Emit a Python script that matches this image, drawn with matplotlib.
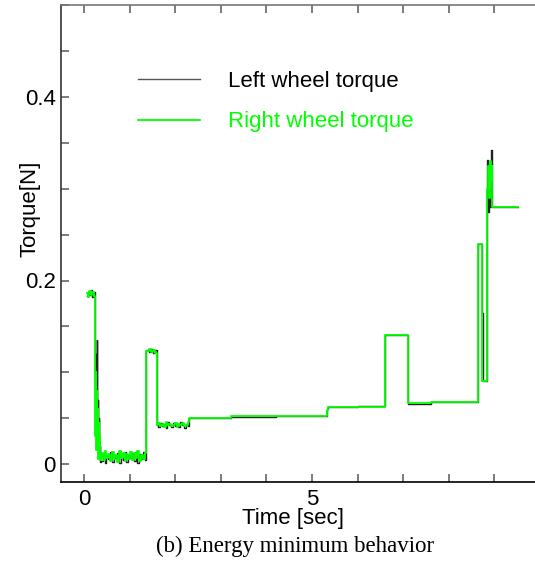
import matplotlib
matplotlib.use("Agg")
import matplotlib.pyplot as plt
from matplotlib.ticker import MultipleLocator, FixedLocator

plt.rcParams['font.family'] = ['Liberation Sans', 'DejaVu Sans']

# ---- data (time in sec, torque in N) ----
# start level, falling edge, noisy floor, short bump, noisy low level, steps, spike
start_t = [0.06, 0.09, 0.12, 0.15, 0.18, 0.21]
drop_t = [0.24, 0.25, 0.26, 0.27, 0.28, 0.29, 0.30, 0.31, 0.32, 0.33, 0.34, 0.35]
floor_t = [0.37, 0.41, 0.45, 0.49, 0.53, 0.57, 0.61, 0.65, 0.69, 0.73, 0.77, 0.81, 0.85,
           0.89, 0.93, 0.97, 1.01, 1.05, 1.09, 1.13, 1.17, 1.21, 1.25, 1.29, 1.33]
bump_t = [1.37, 1.42, 1.47, 1.52, 1.56]
low_t = [1.59, 1.63, 1.67, 1.71, 1.75, 1.79, 1.83, 1.87, 1.91, 1.95, 1.99, 2.03, 2.07,
         2.11, 2.15, 2.19, 2.23, 2.27]

left_start = [0.183, 0.188, 0.184, 0.190, 0.182, 0.187]
left_drop = [0.140, 0.090, 0.120, 0.050, 0.135, 0.040, 0.070, 0.020, 0.050, 0.005, 0.020, 0.002]
left_floor = [0.003, 0.011, 0.001, 0.009, 0.005, 0.013, 0.002, 0.010, 0.006, 0.012, 0.001, 0.008, 0.004,
              0.013, 0.002, 0.010, 0.006, 0.012, 0.003, 0.009, 0.001, 0.011, 0.005, 0.013, 0.004]
left_bump = [0.124, 0.122, 0.125, 0.121, 0.124]
left_low = [0.043, 0.040, 0.045, 0.041, 0.044, 0.039, 0.046, 0.042, 0.040, 0.045, 0.041, 0.044,
            0.040, 0.046, 0.042, 0.039, 0.044, 0.041]
left_tail_t = [2.31, 2.80, 3.22, 4.20, 5.33, 5.36, 6.00, 6.59, 6.85, 7.10, 7.62, 8.20, 8.64,
               8.73, 8.74, 8.84, 8.86, 8.88, 8.90, 8.92, 8.94, 8.95, 9.52]
left_tail = [0.0500, 0.0505, 0.0515, 0.0520, 0.0600, 0.0620, 0.0628, 0.1410, 0.1405, 0.0655,
             0.0675, 0.0680, 0.240, 0.165, 0.090, 0.331, 0.275, 0.300, 0.280, 0.342, 0.290,
             0.280, 0.280]

right_start = [0.186, 0.182, 0.189, 0.184, 0.188, 0.183]
right_drop = [0.120, 0.030, 0.100, 0.015, 0.080, 0.020, 0.060, 0.005, 0.045, 0.010, 0.030, 0.004]
right_floor = [0.012, 0.004, 0.014, 0.006, 0.011, 0.003, 0.013, 0.005, 0.010, 0.002, 0.014, 0.007, 0.012,
               0.003, 0.011, 0.005, 0.013, 0.004, 0.012, 0.006, 0.014, 0.003, 0.010, 0.005, 0.012]
right_bump = [0.123, 0.125, 0.122, 0.124, 0.121]
right_low = [0.042, 0.045, 0.041, 0.044, 0.040, 0.046, 0.042, 0.044, 0.041, 0.043, 0.045, 0.040,
             0.044, 0.042, 0.045, 0.041, 0.043, 0.046]
right_tail_t = [2.31, 3.22, 5.33, 5.36, 6.59, 7.10, 7.62, 8.64, 8.73, 8.84, 8.86, 8.88, 8.90,
                8.92, 8.94, 8.95, 9.52]
right_tail = [0.0505, 0.0522, 0.0590, 0.0625, 0.1405, 0.0660, 0.0680, 0.240, 0.090, 0.300,
              0.325, 0.290, 0.330, 0.310, 0.325, 0.280, 0.280]

left_t = start_t + drop_t + floor_t + bump_t + low_t + left_tail_t
left_v = left_start + left_drop + left_floor + left_bump + left_low + left_tail
right_t = start_t + drop_t + floor_t + bump_t + low_t + right_tail_t
right_v = right_start + right_drop + right_floor + right_bump + right_low + right_tail

x_major = [0, 5, 10]
y_major = [0, 0.2, 0.4]

GREEN = '#00ff00'

fig = plt.figure(figsize=(5.35, 5.64), dpi=100)
# axes runs off the right edge of the picture, like the scanned figure
ax = fig.add_axes([61.2 / 535, 1 - 482.35 / 564, 501.6 / 535, 477.1 / 564])

ax.plot(left_t, left_v, color='#222222', lw=1.0, drawstyle='steps-post',
        label='Left wheel torque')
ax.plot(right_t, right_v, color=GREEN, lw=1.3, drawstyle='steps-post',
        label='Right wheel torque')

ax.set_xlim(-0.5, 10.5)
ax.set_ylim(-0.02, 0.5)

ax.xaxis.set_major_locator(FixedLocator(x_major))
ax.xaxis.set_minor_locator(MultipleLocator(1))
ax.yaxis.set_major_locator(FixedLocator(y_major))
ax.yaxis.set_minor_locator(MultipleLocator(0.05))
ax.set_xticklabels(['0', '5', ''])
ax.set_yticklabels(['0', '0.2', '0.4'])

ax.tick_params(which='both', direction='in', length=6, width=1.2, color='#666666',
               top=True, right=False, labelsize=16)
ax.tick_params(axis='x', pad=5)
ax.tick_params(axis='y', pad=4)

for side in ['top', 'right']:
    ax.spines[side].set_color('#777777')
ax.spines['left'].set_color('#333333')
ax.spines['bottom'].set_color('black')
for sp in ax.spines.values():
    sp.set_linewidth(1.2)

leg = ax.legend(loc='upper left', bbox_to_anchor=(0.153, 0.862), frameon=False,
                fontsize=16, handlelength=2.8, handletextpad=1.27, labelspacing=0.87,
                borderpad=0, borderaxespad=0)
leg.get_lines()[0].set_color('#555555')
leg.get_texts()[0].set_color('black')
leg.get_texts()[1].set_color(GREEN)

fig.text(30 / 535, 1 - 209 / 564, 'Torque[N]', rotation=90, ha='center', va='center',
         fontsize=16)
fig.text(293 / 535, 1 - 524 / 564, 'Time [sec]', ha='center', va='baseline', fontsize=16)
fig.text(295 / 535, 1 - 546 / 564, '(b) Energy minimum behavior', ha='center', va='center',
         fontsize=16.5, family=['Liberation Serif', 'DejaVu Serif'])

fig.savefig('out.png', dpi=100)
